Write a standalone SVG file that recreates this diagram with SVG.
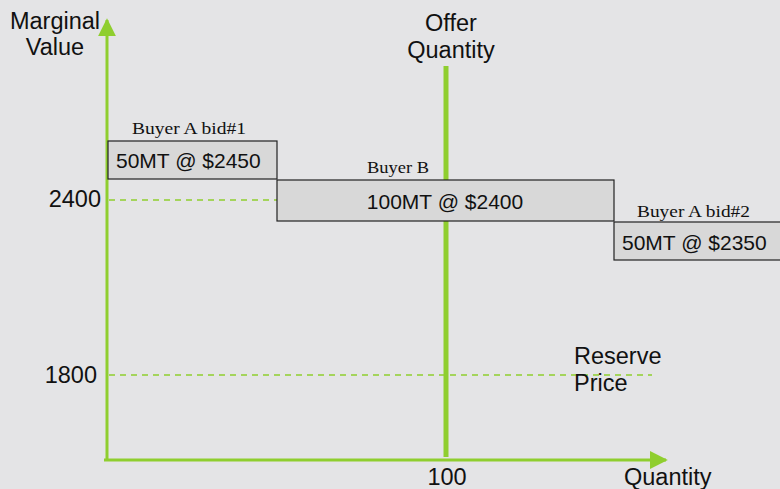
<svg xmlns="http://www.w3.org/2000/svg" width="780" height="489" viewBox="0 0 780 489">
<defs>
<style>
.sans{font-family:"Liberation Sans",Arial,sans-serif;fill:#111;}
.lbl{font-size:23.5px;}
.val{font-size:21px;}
.serif{font-family:"Liberation Serif","DejaVu Serif",serif;fill:#111;font-size:17.5px;}
.box{fill:#d8d8d8;stroke:#222;stroke-width:1.2;}
.dash{stroke:#8fce2f;stroke-width:1.5;stroke-dasharray:6,5;fill:none;}
.axis{stroke:#8fce2f;stroke-width:3;fill:none;}
</style>
<marker id="arr" viewBox="0 0 10 10" refX="9" refY="5" markerWidth="6" markerHeight="6" markerUnits="strokeWidth" orient="auto">
<path d="M0,0 L10,5 L0,10 z" fill="#8fce2f"/>
</marker>
</defs>
<rect width="780" height="489" fill="#e4e4e6"/>
<g id="connectors">
<line class="axis" x1="107" y1="461" x2="107" y2="20" marker-end="url(#arr)"/>
<line class="axis" x1="104" y1="460" x2="666" y2="460" marker-end="url(#arr)"/>
<line x1="446" y1="66" x2="446" y2="457" stroke="#8fce2f" stroke-width="5"/>
<line class="dash" x1="109" y1="200" x2="277" y2="200"/>
<line class="dash" x1="109" y1="375" x2="652" y2="375"/>
</g>
<g id="axis-labels">
<text class="sans lbl" x="55" y="29" text-anchor="middle">Marginal</text>
<text class="sans lbl" x="55" y="55" text-anchor="middle">Value</text>
<text class="sans lbl" x="451" y="31" text-anchor="middle">Offer</text>
<text class="sans lbl" x="451" y="58" text-anchor="middle">Quantity</text>
<text class="sans lbl" x="101" y="207" text-anchor="end">2400</text>
<text class="sans lbl" x="97" y="383" text-anchor="end">1800</text>
<text class="sans lbl" x="447" y="485" text-anchor="middle">100</text>
<text class="sans lbl" x="624" y="485">Quantity</text>
<text class="sans lbl" x="574" y="364">Reserve</text>
<text class="sans lbl" x="574" y="391">Price</text>
</g>
<g id="bid1">
<text class="serif" x="132" y="134" textLength="114" lengthAdjust="spacingAndGlyphs">Buyer A bid#1</text>
<rect class="box" x="108" y="141" width="169" height="38"/>
<text class="sans val" x="116" y="168">50MT @ $2450</text>
</g>
<g id="bidB">
<text class="serif" x="367" y="173" textLength="62" lengthAdjust="spacingAndGlyphs">Buyer B</text>
<rect class="box" x="277" y="180" width="337" height="41"/>
<text class="sans val" x="445" y="209" text-anchor="middle">100MT @ $2400</text>
</g>
<g id="bid2">
<text class="serif" x="637" y="217" textLength="113" lengthAdjust="spacingAndGlyphs">Buyer A bid#2</text>
<rect class="box" x="614" y="222" width="170" height="38"/>
<text class="sans val" x="622" y="250">50MT @ $2350</text>
</g>
</svg>
